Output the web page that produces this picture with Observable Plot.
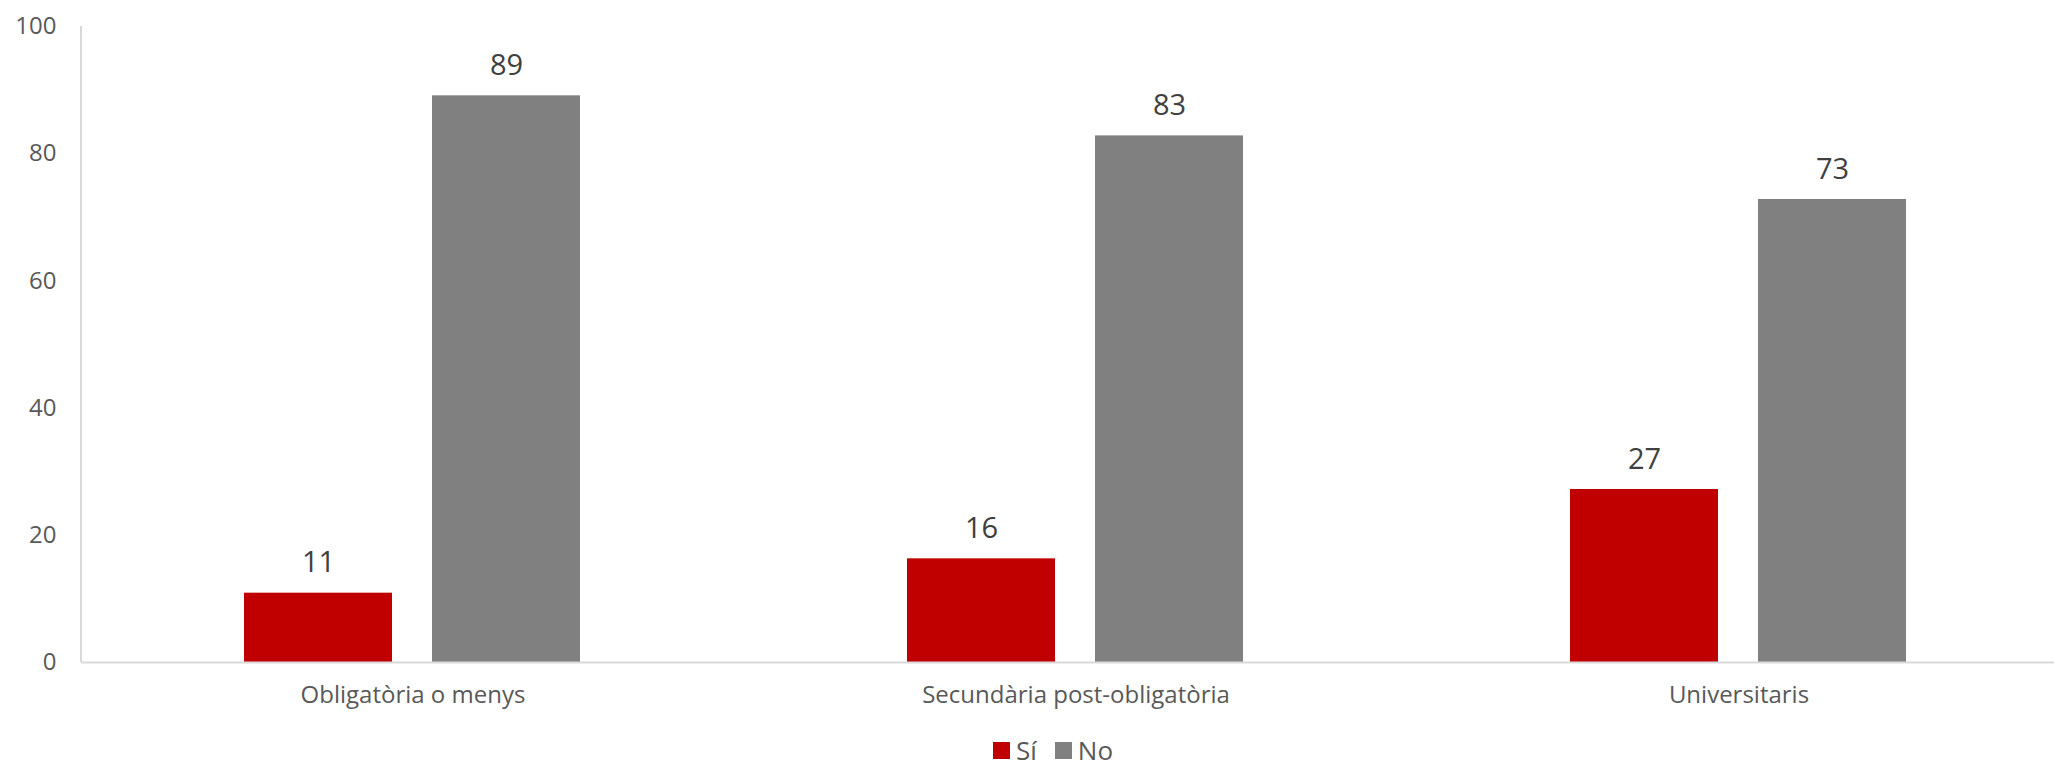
<!DOCTYPE html>
<html>
<head>
<meta charset="utf-8">
<script src="https://cdn.jsdelivr.net/npm/d3@7"></script>
<script src="https://cdn.jsdelivr.net/npm/@observablehq/plot@0.6"></script>
<style>
  html, body { margin: 0; padding: 0; background: #fff; }
  body { font-family: "Open Sans", sans-serif; width: 2054px; }
  #legend { display: flex; align-items: center; height: 22px; line-height: 22px; margin-top: 14px; padding-left: 993px; color: #595959; font-size: 26px; }
  #legend .sw { width: 17px; height: 17px; display: inline-block; margin-right: 6px; }
  #legend .item { display: flex; align-items: center; margin-right: 18px; }
</style>
</head>
<body>
<div id="chart"></div>
<div id="legend"></div>
<script>
const categories = ["Obligatòria o menys", "Secundària post-obligatòria", "Universitaris"];
const seriesNames = ["Sí", "No"];
const valuesSi = [10.9, 16.3, 27.2];
const valuesNo = [89.1, 82.8, 72.8];
const yTicks = [0, 20, 40, 60, 80, 100];
const colors = ["#C00000", "#808080"];

const data = [];
categories.forEach((c, i) => {
  data.push({cat: c, serie: seriesNames[0], value: valuesSi[i]});
  data.push({cat: c, serie: seriesNames[1], value: valuesNo[i]});
});

const chart = Plot.plot({
  width: 2054,
  height: 725,
  marginLeft: 81,
  marginRight: -16,
  marginTop: 26,
  marginBottom: 63,
  style: {fontFamily: "Open Sans, sans-serif", background: "white"},
  fx: {domain: categories, padding: 0},
  x: {domain: seriesNames, paddingInner: 0.2116, paddingOuter: 0.86, axis: null},
  y: {domain: [0, 100], axis: null},
  color: {domain: seriesNames, range: colors},
  marks: [
    Plot.axisY({ticks: yTicks, tickSize: 0, tickPadding: 25, fontSize: 24, color: "#595959", label: null}),
    Plot.axisFx({anchor: "bottom", tickSize: 0, tickPadding: 23, fontSize: 24, color: "#595959", label: null}),
    Plot.barY(data, {fx: "cat", x: "serie", y: "value", fill: "serie"}),
    Plot.ruleY([0], {stroke: "#D9D9D9", strokeWidth: 2}),
    Plot.text(data, {fx: "cat", x: "serie", y: "value", text: d => String(Math.round(d.value)), dy: -30, fontSize: 29, fill: "#404040"})
  ]
});
document.getElementById("chart").appendChild(chart);

// left axis line using Plot's scales
const fxs = chart.scale("fx");
const ys = chart.scale("y");
d3.select(chart).append("line")
  .attr("x1", fxs.range[0]).attr("x2", fxs.range[0])
  .attr("y1", ys.range[0]).attr("y2", ys.range[1])
  .attr("stroke", "#D9D9D9").attr("stroke-width", 2);

const legend = d3.select("#legend");
seriesNames.forEach((s, i) => {
  const it = legend.append("div").attr("class", "item");
  it.append("span").attr("class", "sw").style("background", colors[i]);
  it.append("span").text(s);
});
</script>
</body>
</html>
